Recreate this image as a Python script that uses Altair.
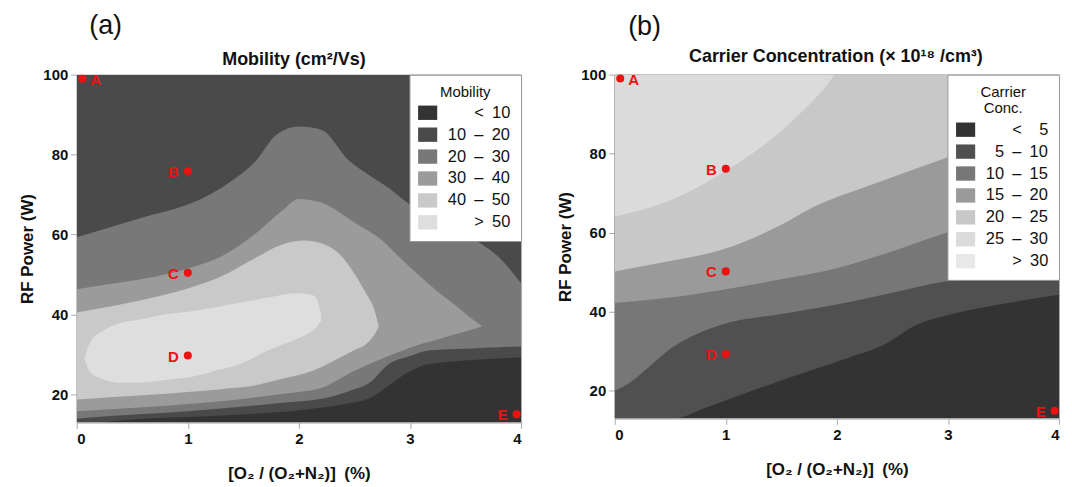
import altair as alt
import pandas as pd

FONT = "Liberation Sans, Arial, sans-serif"
X_MIN, X_MAX, Y_MIN, Y_MAX = 0, 4, 13, 100
ZW = "\u200b"   # zero-width guard so padding survives
FS = "\u2007"   # figure space
ES = "\u2002"   # en space
DASH = "\u2013"

# ---------------- panel (a): mobility ----------------
mob_labels = [ZW + FS + FS + ES + "<" + ES + "10", "10" + ES + DASH + ES + "20", "20" + ES + DASH + ES + "30",
              "30" + ES + DASH + ES + "40", "40" + ES + DASH + ES + "50", ZW + FS + FS + ES + ">" + ES + "50"]
mob_colors = ["#333333", "#4a4a4a", "#787878", "#9b9b9b", "#c9c9c9", "#dedede"]

# background (10-20)
mob_bg_x = [0, 4]
mob_bg_top = [100, 100]
mob_bg_bot = [13, 13]
# region >= 20
mob20_x = [0, 0.3, 0.6, 1.0, 1.2, 1.4, 1.6, 1.8, 2.0, 2.2, 2.45, 2.65, 2.8, 3.0, 3.15, 3.3, 3.55, 3.8, 4.0]
mob20_top = [59.3, 61.8, 64.3, 67.5, 70, 73.5, 78, 85, 87, 86.2, 78.5, 74.5, 71.8, 67.5, 65.2, 63, 59.2, 54.3, 47.8]
mob20_bot = [13.9, 14.6, 15.1, 15.8, 16.2, 16.7, 17.2, 17.8, 18.2, 18.9, 20.8, 23.2, 27.4, 29.6, 30.9, 31.2, 31.5, 31.8, 32.0]
# region >= 30
mob30_x = [0, 0.3, 0.6, 1.0, 1.3, 1.6, 1.85, 2.0, 2.2, 2.5, 2.75, 2.93, 3.1, 3.25, 3.4, 3.53, 3.65]
mob30_top = [46.3, 47.6, 48.9, 51.5, 54.5, 60, 66, 68.9, 68, 63, 58.5, 53.6, 49.3, 45.7, 42.5, 39.5, 37]
mob30_bot = [15.8, 16.3, 16.8, 17.6, 18.3, 19.2, 20.1, 20.6, 21.6, 25.9, 29.0, 30.9, 32.6, 33.7, 35, 36, 37]
# region >= 40
mob40_x = [0, 0.3, 0.6, 1.0, 1.3, 1.6, 1.85, 2.05, 2.2, 2.35, 2.5, 2.6, 2.68, 2.72]
mob40_top = [40.5, 42, 43.7, 46.5, 49.5, 54, 57.5, 58.5, 57.8, 55.5, 50.2, 45.5, 41.1, 37]
mob40_bot = [18.7, 19.3, 19.8, 20.6, 21.3, 22.2, 23.9, 25.2, 26.8, 28.9, 31.1, 32.5, 35.0, 37]
# region >= 50
mob50_x = [0.07, 0.12, 0.24, 0.39, 0.54, 0.84, 1.0, 1.29, 1.44, 1.74, 1.97, 2.1, 2.15, 2.2]
mob50_top = [29, 33, 36, 37.8, 38.6, 40.2, 40.7, 42, 42.8, 44.3, 45.3, 45, 44.3, 40]
mob50_bot = [29, 25.5, 23.8, 22.9, 22.9, 23.7, 24.2, 26.2, 27.3, 31.2, 33.7, 35.5, 36.5, 38.5]
# region < 10
mob10_x = [0.25, 0.6, 1.2, 2.0, 2.4, 2.65, 2.8, 2.95, 3.15, 3.5, 4.0]
mob10_top = [13.1, 13.9, 14.6, 16.0, 17.5, 19.2, 22, 25, 27.5, 28.5, 29.2]
mob10_bot = [13, 13, 13, 13, 13, 13, 13, 13, 13, 13, 13]

# ---------------- panel (b): carrier concentration ----------------
cc_labels = [ZW + FS + FS + ES + "<" + ES + FS + "5", ZW + FS + "5" + ES + DASH + ES + "10",
             "10" + ES + DASH + ES + "15", "15" + ES + DASH + ES + "20", "20" + ES + DASH + ES + "25",
             "25" + ES + DASH + ES + "30", ZW + FS + FS + ES + ">" + ES + "30"]
cc_colors = ["#333333", "#505050", "#777777", "#9a9a9a", "#c8c8c8", "#dbdbdb", "#e8e8e8"]

cc_bg_x = [0, 4]
cc_bg_bot = [13, 13]
cc5_x = [0, 0.54, 0.8, 1.15, 1.5, 1.75, 2.1, 2.45, 2.69, 3.05, 3.5, 4.0]
cc5_y = [13, 13, 15.5, 19.1, 22.6, 25, 28.3, 32, 36.3, 39.5, 42, 44.3]
cc10_x = [0, 0.15, 0.3, 0.51, 0.75, 0.96, 1.5, 2.0, 2.5, 2.99, 3.5, 4.0]
cc10_y = [19.9, 22.3, 25.8, 30.8, 34.5, 36.7, 39.4, 41.8, 44.8, 47.7, 48.7, 49.4]
cc15_x = [0, 0.5, 1.0, 1.5, 2.0, 2.5, 2.93, 3.5, 4.0]
cc15_y = [42.2, 43.6, 45.7, 48.2, 51, 55.3, 59.5, 64, 68]
cc20_x = [0, 0.5, 1.0, 1.5, 1.79, 2.3, 2.93, 3.5, 4.0]
cc20_y = [50.2, 52.8, 56, 62, 66.5, 72, 78.4, 84, 88]
cc25_x = [0, 0.51, 0.96, 1.4, 1.7, 1.9, 1.98]
cc25_y = [64.1, 68.3, 75, 83.4, 91, 97, 100]

# ---------------- sample points ----------------
pt_names = ["A", "B", "C", "D", "E"]
pt_x = [0.05, 1.0, 1.0, 1.0, 3.96]
pt_y_mob = [99.0, 75.9, 50.4, 29.7, 15.0]
pt_y_cc = [99.0, 76.2, 50.2, 29.3, 14.9]

RED = "#ee1111"
X_TITLE = "[O\u2082 / (O\u2082+N\u2082)]" + ES + "(%)"


def band(xs, top, bot, level):
    return pd.DataFrame({"x": xs, "y": top, "y2": bot, "level": [level] * len(xs)})


def panel(bands, labels, colors, pts_y, legend_title, title, title_pos, tag, tag_pos, w, h):
    xenc = alt.X("x:Q", scale=alt.Scale(domain=[X_MIN, X_MAX], nice=False, zero=False),
                 axis=alt.Axis(values=[0, 1, 2, 3, 4], title=X_TITLE, titlePadding=19, format="d"))
    yenc = alt.Y("y:Q", scale=alt.Scale(domain=[Y_MIN, Y_MAX], nice=False, zero=False),
                 axis=alt.Axis(values=[20, 40, 60, 80, 100], title="RF Power (W)", titlePadding=6))
    cenc = alt.Color("level:N", scale=alt.Scale(domain=labels, range=colors),
                     legend=alt.Legend(title=legend_title, orient="top-right", offset=0,
                                       fillColor="white", strokeColor="#999999", padding=10,
                                       symbolType="M-1.2,-0.9H1.2V0.9H-1.2Z", symbolSize=256,
                                       symbolStrokeWidth=0, symbolOpacity=1,
                                       labelFontSize=16.5, labelFont=FONT, labelColor="#111111",
                                       labelOffset=12, rowPadding=5, labelLimit=200,
                                       titleFontSize=15, titleFontWeight="normal", titleFont=FONT,
                                       titleColor="#111111", titleAnchor="middle", titleAlign="center",
                                       titlePadding=5))
    layers = []
    for df in bands:
        layers.append(alt.Chart(df).mark_area(interpolate="monotone", clip=True, opacity=1)
                      .encode(x=xenc, y=yenc, y2="y2:Q", color=cenc))
    pts = pd.DataFrame({"x": pt_x, "y": pts_y, "name": pt_names})
    layers.append(alt.Chart(pts).mark_circle(size=65, color=RED, opacity=1)
                  .encode(x=xenc, y=yenc))
    layers.append(alt.Chart(pts[pts["name"] == "A"]).mark_text(
        align="left", dx=8, dy=1, fontSize=15, fontWeight="bold", color=RED, font=FONT)
        .encode(x=xenc, y=yenc, text="name:N"))
    layers.append(alt.Chart(pts[pts["name"] != "A"]).mark_text(
        align="right", dx=-9, dy=1, fontSize=15, fontWeight="bold", color=RED, font=FONT)
        .encode(x=xenc, y=yenc, text="name:N"))
    layers.append(alt.Chart(pd.DataFrame({"t": [tag]})).mark_text(
        align="center", baseline="middle", fontSize=27, font=FONT, color="#111111")
        .encode(text="t:N", x=alt.value(tag_pos[0]), y=alt.value(tag_pos[1])))
    layers.append(alt.Chart(pd.DataFrame({"t": [title]})).mark_text(
        align="center", baseline="middle", fontSize=18, fontWeight="bold", font=FONT, color="#111111")
        .encode(text="t:N", x=alt.value(title_pos[0]), y=alt.value(title_pos[1])))
    return alt.layer(*layers).properties(width=w, height=h)


mob_bands = [
    band(mob_bg_x, mob_bg_top, mob_bg_bot, mob_labels[1]),
    band(mob20_x, mob20_top, mob20_bot, mob_labels[2]),
    band(mob30_x, mob30_top, mob30_bot, mob_labels[3]),
    band(mob40_x, mob40_top, mob40_bot, mob_labels[4]),
    band(mob50_x, mob50_top, mob50_bot, mob_labels[5]),
    band(mob10_x, mob10_top, mob10_bot, mob_labels[0]),
]
cc_bands = [
    band(cc_bg_x, [Y_MAX] * len(cc_bg_x), cc_bg_bot, cc_labels[0]),
    band(cc5_x, [Y_MAX] * len(cc5_x), cc5_y, cc_labels[1]),
    band(cc10_x, [Y_MAX] * len(cc10_x), cc10_y, cc_labels[2]),
    band(cc15_x, [Y_MAX] * len(cc15_x), cc15_y, cc_labels[3]),
    band(cc20_x, [Y_MAX] * len(cc20_x), cc20_y, cc_labels[4]),
    band(cc25_x, [Y_MAX] * len(cc25_x), cc25_y, cc_labels[5]),
]

left = panel(mob_bands, mob_labels, mob_colors, pt_y_mob, "Mobility",
             "Mobility (cm\u00b2/Vs)", (218, -15), "(a)", (29, -49), 446, 349)
right = panel(cc_bands, cc_labels, cc_colors, pt_y_cc, ["Carrier", "Conc."],
              "Carrier Concentration (\u00d7 10\u00b9\u2078 /cm\u00b3)", (222, -18), "(b)", (30, -48), 446, 345)

chart = alt.hconcat(left, right, spacing=34).resolve_scale(
    x="independent", y="independent", color="independent"
).resolve_legend(color="independent").properties(
    padding={"left": 10, "top": 2, "right": 4, "bottom": 2}
).configure(font=FONT).configure_axis(
    labelFontSize=15, labelFontWeight="bold", labelColor="#111111", labelFont=FONT,
    titleFontSize=17, titleFontWeight="bold", titleColor="#111111", titleFont=FONT,
    domainColor="#aaaaaa", tickColor="#aaaaaa", tickSize=6, grid=False, labelPadding=3
).configure_view(stroke="#aaaaaa", strokeWidth=1)

chart.save("out.html", embed_options={"renderer": "svg", "actions": False})
